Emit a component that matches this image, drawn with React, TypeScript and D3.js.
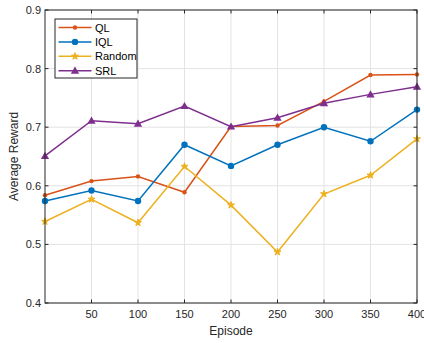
import React from 'react';
import * as d3 from 'd3';

const episodes = [0, 50, 100, 150, 200, 250, 300, 350, 400];
const qlValues = [0.584, 0.608, 0.616, 0.589, 0.701, 0.703, 0.744, 0.789, 0.790];
const iqlValues = [0.574, 0.592, 0.574, 0.670, 0.634, 0.670, 0.700, 0.676, 0.730];
const randomValues = [0.539, 0.577, 0.537, 0.633, 0.567, 0.487, 0.586, 0.618, 0.680];
const srlValues = [0.651, 0.711, 0.706, 0.736, 0.701, 0.716, 0.741, 0.756, 0.769];
const xTicks = [50, 100, 150, 200, 250, 300, 350, 400];
const yTicks = [0.4, 0.5, 0.6, 0.7, 0.8, 0.9];

const series = [
  { name: 'QL', values: qlValues, color: '#D95319', marker: 'dot' },
  { name: 'IQL', values: iqlValues, color: '#0072BD', marker: 'circle' },
  { name: 'Random', values: randomValues, color: '#EDB120', marker: 'star' },
  { name: 'SRL', values: srlValues, color: '#7E2F8E', marker: 'triangle' },
];

const W = 424;
const H = 343;
const margin = { left: 45, right: 7, top: 10, bottom: 40 };
const font = 'Liberation Sans, Arial, Helvetica, sans-serif';
const axisColor = '#262626';

const Marker: React.FC<{ type: string; x: number; y: number; color: string }> = ({ type, x, y, color }) => {
  if (type === 'dot') return <circle cx={x} cy={y} r={2.2} fill={color} />;
  if (type === 'circle') return <circle cx={x} cy={y} r={3.2} fill={color} />;
  if (type === 'triangle') {
    const p = d3.symbol(d3.symbolTriangle, 30)();
    return <path d={p || ''} transform={`translate(${x},${y + 0.6})`} fill={color} />;
  }
  const p = d3.symbol(d3.symbolStar, 15)();
  return <path d={p || ''} transform={`translate(${x},${y})`} fill={color} stroke={color} strokeWidth={1} />;
};

export default function App() {
  const x = d3.scaleLinear().domain([0, 400]).range([margin.left, W - margin.right]);
  const y = d3.scaleLinear().domain([0.4, 0.9]).range([H - margin.bottom, margin.top]);
  const [x0, x1] = x.range();
  const [y0, y1] = y.range();

  const line = d3.line<number>()
    .x((_, i) => x(episodes[i]))
    .y(d => y(d));

  const legendX = 55;
  const legendY = 19;

  return (
    <svg width={W} height={H} style={{ position: 'absolute', left: 0, top: 0, background: '#fff' }} fontFamily={font}>
      {/* grid */}
      {xTicks.map(t => (
        <line key={'gx' + t} x1={x(t)} x2={x(t)} y1={y1} y2={y0} stroke="#e3e3e3" strokeWidth={1} />
      ))}
      {yTicks.map(t => (
        <line key={'gy' + t} x1={x0} x2={x1} y1={y(t)} y2={y(t)} stroke="#e3e3e3" strokeWidth={1} />
      ))}

      {/* series */}
      {series.map(s => (
        <g key={s.name}>
          <path d={line(s.values) || ''} fill="none" stroke={s.color} strokeWidth={1.5} />
          {s.values.map((v, i) => (
            <Marker key={i} type={s.marker} x={x(episodes[i])} y={y(v)} color={s.color} />
          ))}
        </g>
      ))}

      {/* box + ticks */}
      <rect x={x0} y={y1} width={x1 - x0} height={y0 - y1} fill="none" stroke={axisColor} strokeWidth={1} />
      {xTicks.map(t => (
        <g key={'tx' + t}>
          <line x1={x(t)} x2={x(t)} y1={y0} y2={y0 - 3.5} stroke={axisColor} />
          <line x1={x(t)} x2={x(t)} y1={y1} y2={y1 + 3.5} stroke={axisColor} />
          <text x={x(t)} y={y0 + 15} textAnchor="middle" fontSize={11} fill={axisColor}>{t}</text>
        </g>
      ))}
      {yTicks.map(t => (
        <g key={'ty' + t}>
          <line x1={x0} x2={x0 + 3.5} y1={y(t)} y2={y(t)} stroke={axisColor} />
          <line x1={x1} x2={x1 - 3.5} y1={y(t)} y2={y(t)} stroke={axisColor} />
          <text x={x0 - 4} y={y(t) + 4} textAnchor="end" fontSize={11} fill={axisColor}>{t.toFixed(1)}</text>
        </g>
      ))}

      {/* axis labels */}
      <text x={(x0 + x1) / 2} y={H - 8} textAnchor="middle" fontSize={12} fill={axisColor}>Episode</text>
      <text transform={`translate(18,${(y0 + y1) / 2}) rotate(-90)`} textAnchor="middle" fontSize={12} fill={axisColor}>Average Reward</text>

      {/* legend */}
      <rect x={legendX} y={legendY} width={82} height={59} fill="#fff" stroke={axisColor} strokeWidth={1} />
      {series.map((s, i) => {
        const ly = legendY + 8.5 + i * 14.4;
        return (
          <g key={'lg' + s.name}>
            <line x1={legendX + 3.5} x2={legendX + 36.5} y1={ly} y2={ly} stroke={s.color} strokeWidth={1.5} />
            <Marker type={s.marker} x={legendX + 20} y={ly} color={s.color} />
            <text x={legendX + 40} y={ly + 4} fontSize={11} fill="#000">{s.name}</text>
          </g>
        );
      })}
    </svg>
  );
}
